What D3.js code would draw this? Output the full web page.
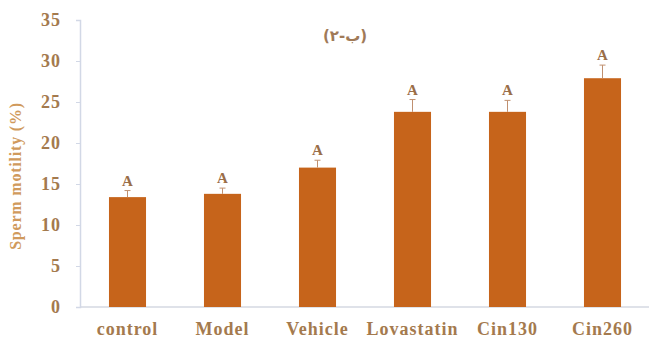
<!DOCTYPE html>
<html>
<head>
<meta charset="utf-8">
<script src="https://cdn.jsdelivr.net/npm/d3@7"></script>
<style>
  html, body { margin: 0; padding: 0; background: #fff; }
  svg { display: block; }
</style>
</head>
<body>
<svg id="chart" width="649" height="339"></svg>
<script>
// Sperm motility by treatment group
const groups = ["control", "Model", "Vehicle", "Lovastatin", "Cin130", "Cin260"];
const motility = [13.4, 13.8, 17.0, 23.8, 23.8, 27.9];
const errors = [0.8, 0.7, 0.9, 1.5, 1.4, 1.6];
const letters = ["A", "A", "A", "A", "A", "A"];
const yTicks = [0, 5, 10, 15, 20, 25, 30, 35];
// panel caption in logical (right-to-left) order: Persian two, "-", beh
const caption = "(\u06F2-\u0628)";

const svg = d3.select("#chart");
const margin = { left: 80 };

const x = d3.scaleBand().domain(groups).range([margin.left, 650]).paddingInner(0.61).paddingOuter(0.305);
const y = d3.scaleLinear().domain([0, 35]).range([307, 20]);

const barColor = "#c6641b";
const textColor = "#a47a4e";
const serif = "'Liberation Serif', 'Times New Roman', serif";

// baseline
svg.append("line")
  .attr("x1", margin.left).attr("x2", 649)
  .attr("y1", y(0)).attr("y2", y(0))
  .attr("stroke", "#d4d8e2").attr("stroke-width", 1.5);

// y axis
const yAxis = d3.axisLeft(y).tickValues(yTicks).tickSize(4).tickPadding(15);
const gy = svg.append("g").attr("transform", `translate(${margin.left},0)`).call(yAxis);
gy.select(".domain").attr("stroke", "#d2d8e6").attr("stroke-width", 1.5);
gy.selectAll(".tick line").attr("stroke", "#d2d8e6");
gy.selectAll(".tick text")
  .attr("fill", textColor)
  .style("font-family", serif)
  .style("font-weight", "bold")
  .style("font-size", "18px")
  .style("letter-spacing", "1px");

// bars
svg.selectAll("rect.bar").data(groups).enter().append("rect")
  .attr("class", "bar")
  .attr("x", d => x(d))
  .attr("width", x.bandwidth())
  .attr("y", (d, i) => y(motility[i]))
  .attr("height", (d, i) => y(0) - y(motility[i]))
  .attr("fill", barColor);

// error bars (upper)
const eb = svg.selectAll("g.err").data(groups).enter().append("g").attr("class", "err");
eb.append("line")
  .attr("x1", d => x(d) + x.bandwidth() / 2)
  .attr("x2", d => x(d) + x.bandwidth() / 2)
  .attr("y1", (d, i) => y(motility[i]))
  .attr("y2", (d, i) => y(motility[i] + errors[i]))
  .attr("stroke", "#c09070").attr("stroke-width", 1);
eb.append("line")
  .attr("x1", d => x(d) + x.bandwidth() / 2 - 3)
  .attr("x2", d => x(d) + x.bandwidth() / 2 + 3)
  .attr("y1", (d, i) => y(motility[i] + errors[i]))
  .attr("y2", (d, i) => y(motility[i] + errors[i]))
  .attr("stroke", "#c09070").attr("stroke-width", 1);

// significance letters
svg.selectAll("text.letter").data(groups).enter().append("text")
  .attr("class", "letter")
  .attr("x", d => x(d) + x.bandwidth() / 2)
  .attr("y", (d, i) => y(motility[i] + errors[i]) - 5)
  .attr("text-anchor", "middle")
  .attr("fill", "#9a6e48")
  .style("font-family", serif)
  .style("font-weight", "bold")
  .style("font-size", "15px")
  .text((d, i) => letters[i]);

// category labels
svg.selectAll("text.cat").data(groups).enter().append("text")
  .attr("class", "cat")
  .attr("x", d => x(d) + x.bandwidth() / 2)
  .attr("y", 335)
  .attr("text-anchor", "middle")
  .attr("fill", textColor)
  .style("font-family", serif)
  .style("font-weight", "bold")
  .style("font-size", "18px")
  .style("letter-spacing", "1px")
  .text(d => d);

// y axis title
svg.append("text")
  .attr("transform", "translate(21,176) rotate(-90)")
  .attr("text-anchor", "middle")
  .attr("fill", "#d09a5c")
  .style("font-family", serif)
  .style("font-weight", "bold")
  .style("font-size", "16px")
  .style("letter-spacing", "0.8px")
  .text("Sperm motility (%)");

// panel caption
svg.append("text")
  .attr("x", 345)
  .attr("y", 41)
  .attr("text-anchor", "middle")
  .attr("fill", "#a07a58")
  .style("font-family", "'DejaVu Sans', sans-serif")
  .style("font-weight", "bold")
  .style("font-size", "15px")
  .style("letter-spacing", "1px")
  .text(caption);
</script>
</body>
</html>
